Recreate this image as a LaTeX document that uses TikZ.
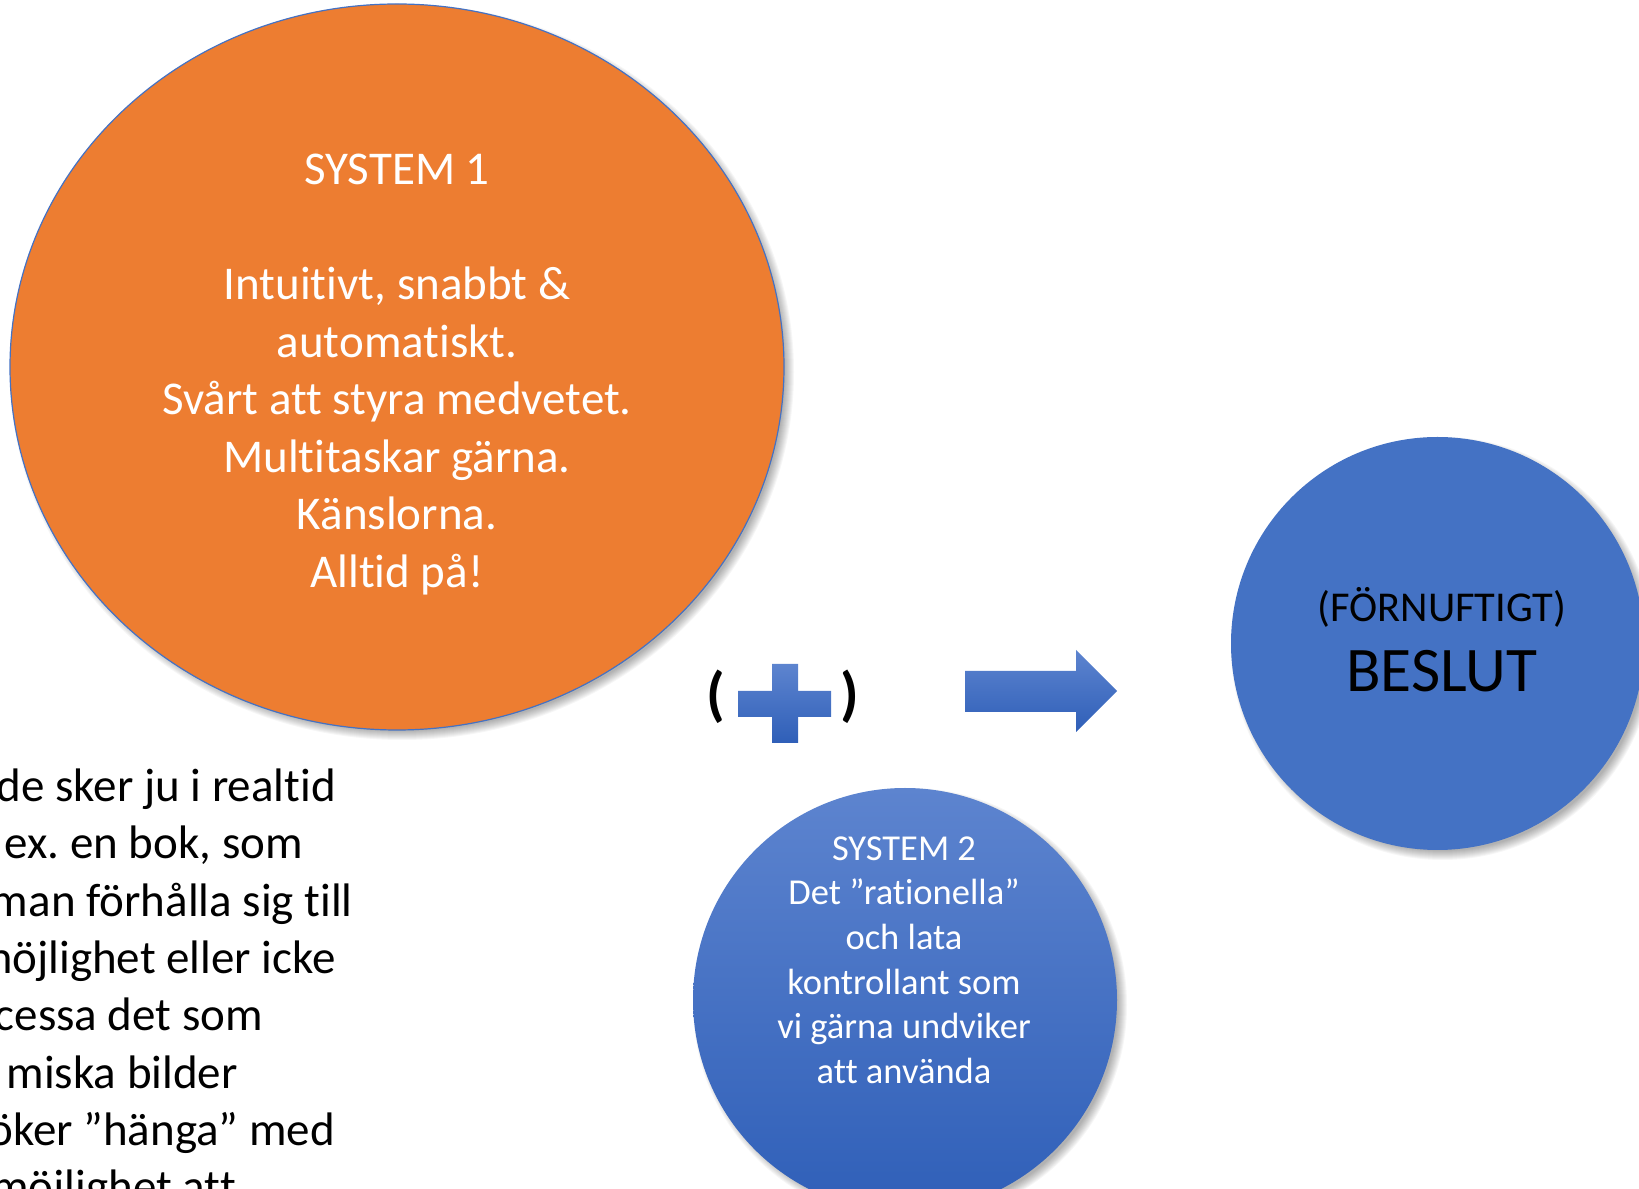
\documentclass[tikz,border=0pt]{standalone}
\usepackage{fontspec}
\setmainfont[Ligatures=NoCommon]{Carlito}
\frenchspacing
\definecolor{orangefill}{HTML}{ED7D31}
\definecolor{bluefill}{HTML}{4472C4}
\definecolor{bluetop}{HTML}{5D84CF}
\definecolor{bluebottom}{HTML}{2F5FB8}
% soft drop shadow: centre, x radius, y radius
\newcommand{\dropshade}[3]{%
  \foreach \k in {0,...,9}{%
    \fill[black,opacity=0.035] (#1) ellipse ({#2-4+\k} and {#3-4+\k});
  }%
}
\begin{document}
\begin{tikzpicture}[x=1pt,y=1pt,
  incircle/.style={text=white,align=center,inner sep=0pt},
  sidetext/.style={anchor=base east,inner sep=0pt,font=\fontsize{47}{57.5}\selectfont},
  gradblue/.style={top color=bluetop,bottom color=bluebottom}]
\useasboundingbox (0,0) rectangle (1639,1189);
\clip (0,0) rectangle (1639,1189);

% paragraph running off the left edge
\node[sidetext] (p1) at (336,387) {de sker ju i realtid};
\node[sidetext] (p2) at (303,330) {ex. en bok, som};
\node[sidetext] (p3) at (353,272) {man förhålla sig till};
\node[sidetext] (p4) at (336,215) {möjlighet eller icke};
\node[sidetext] (p5) at (263,158) {cessa det som};
\node[sidetext] (p6) at (238,100) {miska bilder};
\node[sidetext] (p7) at (335,43) {öker ”hänga” med};
\node[sidetext] (p8) at (236,-14) {möjlighet att};

% System 1
\dropshade{402,817}{387}{363}
\fill[orangefill,draw=bluefill,line width=1.2] (397,822) ellipse (387 and 363);
\node[incircle,font=\fontsize{47}{57.5}\selectfont] (sys1) at (397,814.5)
  {SYSTEM 1\\[57.5pt]Intuitivt, snabbt \&\\automatiskt.\\Svårt att styra medvetet.\\Multitaskar gärna.\\Känslorna.\\Alltid på!};

% System 2
\dropshade{910,184}{212}{212}
\shade[gradblue] (905,189) circle (212);
\node[incircle,font=\fontsize{36.5}{44.6}\selectfont] (sys2) at (904,229)
  {SYSTEM 2\\Det ”rationella”\\och lata\\kontrollant som\\vi gärna undviker\\att använda};

% beslut
\dropshade{1442.5,540.5}{206.5}{206.5}
\fill[bluefill] (1437.5,545.5) circle (206.5);
\node[inner sep=0pt,font=\fontsize{42.5}{50}\selectfont] (fornuft) at (1442,582) {(FÖRNUFTIGT)};
\node[inner sep=0pt,font=\fontsize{63.5}{76}\selectfont] (beslut) at (1442,518) {BESLUT};

% plus in brackets
\node[inner sep=0pt,font=\fontsize{60}{72}\selectfont\bfseries] (lparen) at (716,492) {(};
\node[inner sep=0pt,font=\fontsize{60}{72}\selectfont\bfseries] (rparen) at (850,492) {)};
\shade[gradblue] (772,525) -- (798,525) -- (798,498) -- (831,498) -- (831,472)
  -- (798,472) -- (798,446) -- (772,446) -- (772,472) -- (738,472) -- (738,498)
  -- (772,498) -- cycle;

% block arrow
\shade[gradblue] (965,518) -- (1076,518) -- (1076,539) -- (1117,498)
  -- (1076,457) -- (1076,477) -- (965,477) -- cycle;
\end{tikzpicture}
\end{document}
